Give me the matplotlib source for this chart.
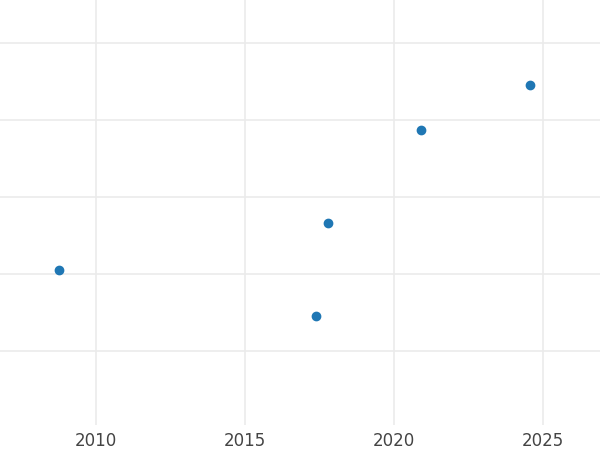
import matplotlib.pyplot as plt

years = [2008.76, 2017.38, 2017.79, 2020.91, 2024.56]
values = [2.05, 1.45, 2.66, 3.87, 4.45]
xticks = [2010, 2015, 2020, 2025]
yticks = [1, 2, 3, 4, 5]

fig = plt.figure(figsize=(6, 4.5), dpi=100)
ax = fig.add_axes([0, 0.056, 1, 0.944])
ax.scatter(years, values, s=36, color='#1f77b4', zorder=3)
ax.set_xlim(2006.78, 2026.91)
ax.set_ylim(0.04, 5.56)
ax.set_xticks(xticks)
ax.set_yticks(yticks)
ax.set_yticklabels([])
ax.grid(True, color='#ebebeb', linewidth=1.2)
ax.tick_params(length=0, labelsize=12, labelcolor='#444444', pad=5)
for s in ax.spines.values():
    s.set_visible(False)
fig.savefig('out.png', dpi=100)
